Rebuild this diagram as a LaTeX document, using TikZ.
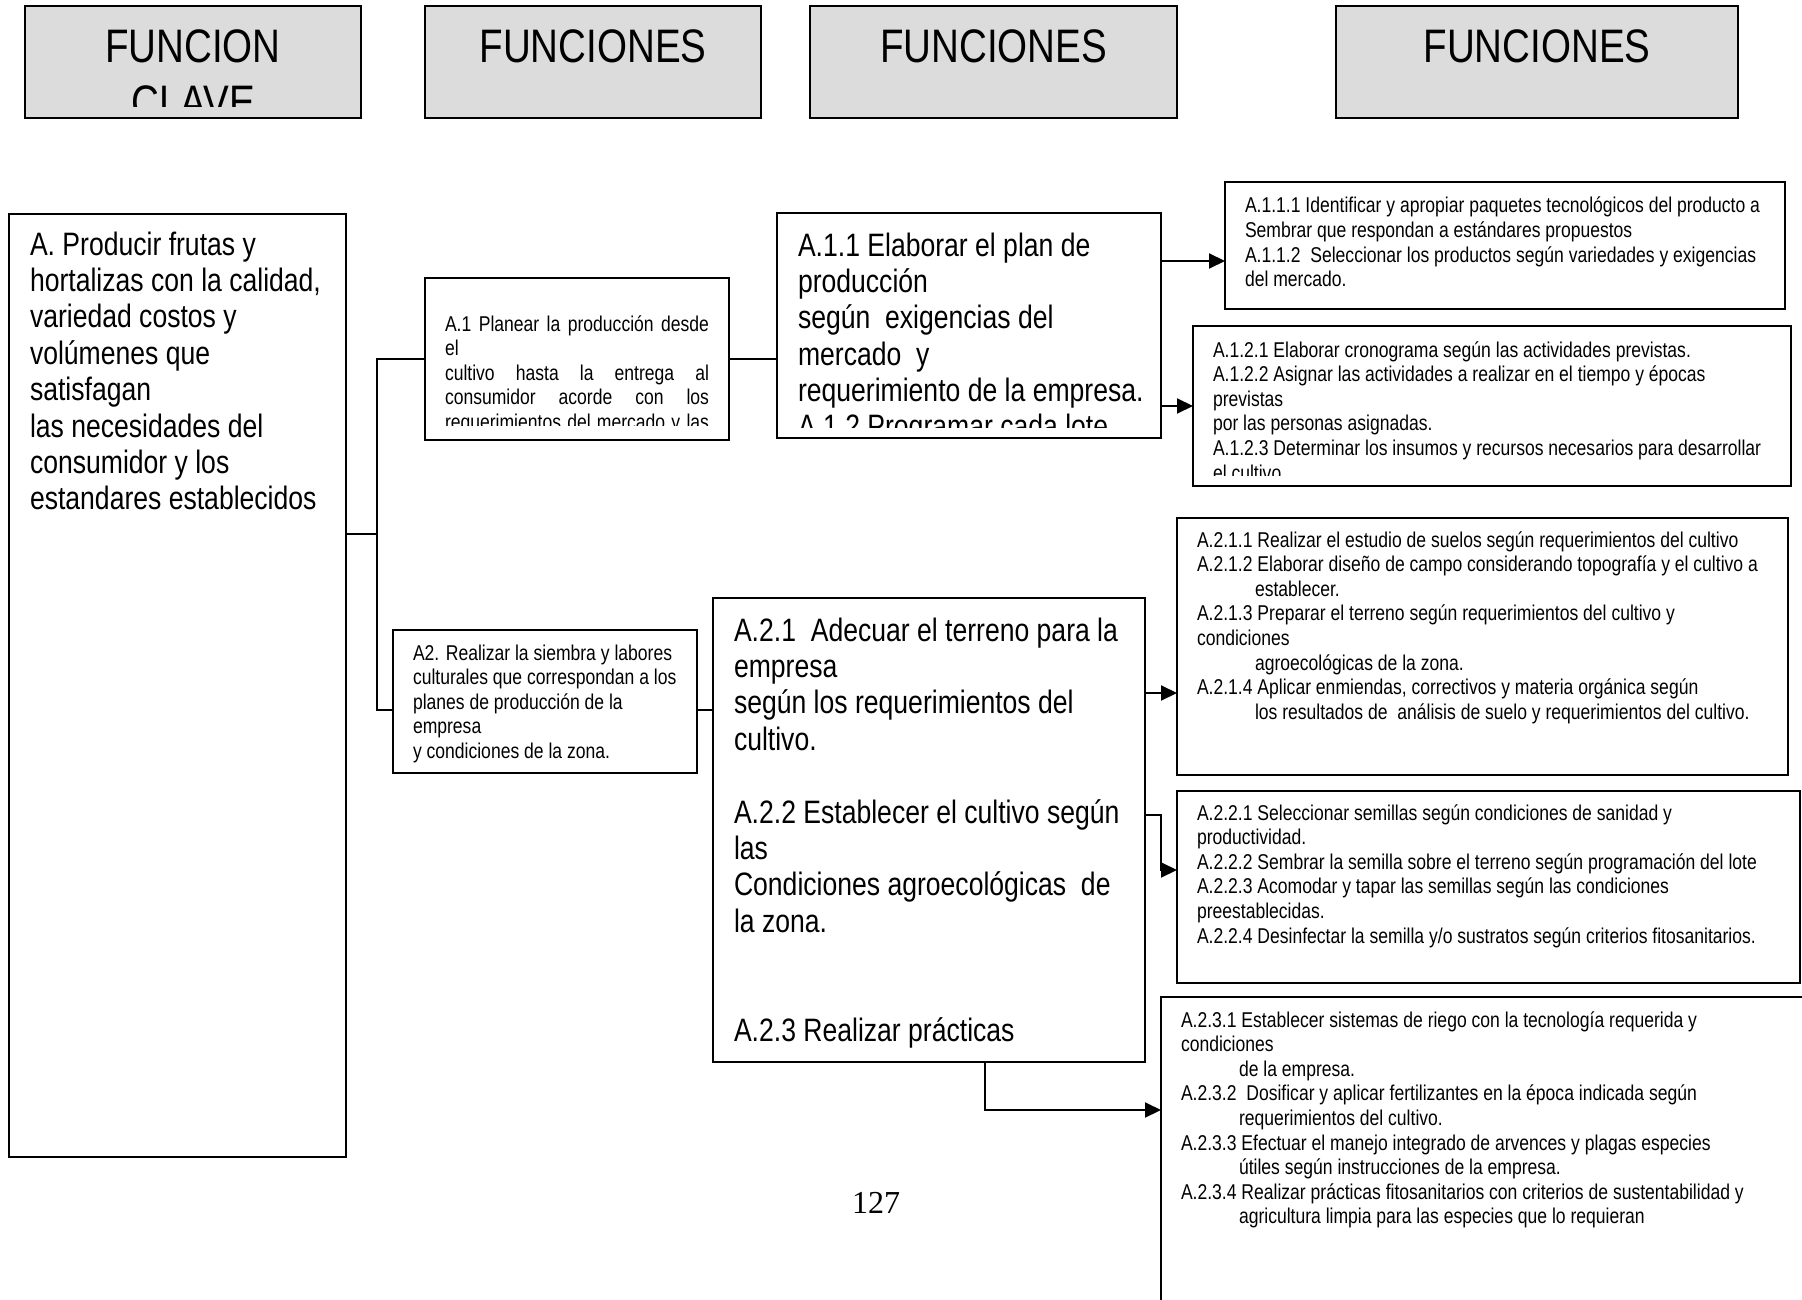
\documentclass[tikz,border=0pt]{standalone}
\usepackage{fontspec}
\setmainfont[FakeStretch=0.82]{Liberation Sans}
\newfontfamily\pagenumfont{Liberation Serif}
\usetikzlibrary{arrows.meta}
\definecolor{hdrgray}{HTML}{DCDCDC}
\newcommand{\smtxt}{\fontsize{21.4}{24.6}\selectfont}
\newcommand{\bgtxt}{\fontsize{32.4}{36.4}\selectfont}
\newcommand{\hdtxt}{\fontsize{47}{56}\selectfont}
\newcommand{\indt}{\hspace*{58pt}}
\tikzset{
  box/.style={draw=black, line width=2pt, inner sep=0pt, outer sep=0pt, anchor=north west},
  hdr/.style={box, fill=hdrgray},
  conn/.style={draw=black, line width=2pt},
  arr/.style={conn, -{Triangle[length=16pt,width=15pt]}},
  txt/.style={inner sep=0pt, outer sep=0pt, anchor=base west},
}
\begin{document}
\begin{tikzpicture}[x=1pt,y=-1pt]
\fill[white] (0,0) rectangle (1802,1300);
\useasboundingbox (0,0) rectangle (1802,1300);

% header boxes
\node[hdr, minimum width=336pt, minimum height=112pt] (h1) at (25,6) {};
\node[hdr, minimum width=336pt, minimum height=112pt] (h2) at (425,6) {};
\node[hdr, minimum width=367pt, minimum height=112pt] (h3) at (810,6) {};
\node[hdr, minimum width=402pt, minimum height=112pt] (h4) at (1336,6) {};

\begin{scope}
\clip (25,6) rectangle (361,107);
\node[txt, anchor=base] (th1) at (193,63) {\parbox[t]{336pt}{\centering\hdtxt FUNCION\\CLAVE}};
\end{scope}
\node[txt, anchor=base] (th2) at (593,63) {\hdtxt FUNCIONES};
\node[txt, anchor=base] (th3) at (993.5,63) {\hdtxt FUNCIONES};
\node[txt, anchor=base] (th4) at (1537,63) {\hdtxt FUNCIONES};

% content boxes
\node[box, minimum width=337pt, minimum height=943pt] (A) at (9,214) {};
\node[box, minimum width=304pt, minimum height=162pt] (A1) at (425,278) {};
\node[box, minimum width=384pt, minimum height=225pt] (A11) at (777,213) {};
\node[box, minimum width=560pt, minimum height=127pt] (A111) at (1225,182) {};
\node[box, minimum width=598pt, minimum height=160pt] (A12) at (1193,326) {};
\node[box, minimum width=304pt, minimum height=143pt] (A2) at (393,630) {};
\node[box, minimum width=432pt, minimum height=464pt] (A2b) at (713,598) {};
\node[box, minimum width=611pt, minimum height=257pt] (A21) at (1177,518) {};
\node[box, minimum width=623pt, minimum height=192pt] (A22) at (1177,791) {};
\node[box, minimum width=739pt, minimum height=403pt] (A23) at (1161,997) {};

% texts
\node[txt] (tA) at (30,255) {\parbox[t]{400pt}{\bgtxt
A. Producir frutas y\\
hortalizas con la calidad,\\
variedad costos y\\
volúmenes que\\
satisfagan\\
las necesidades del\\
consumidor y los\\
estandares establecidos}};

\begin{scope}
\clip (427,280) rectangle (727,425);
\node[txt] (tA1) at (445,331) {\parbox[t]{400pt}{\smtxt
\makebox[264pt][s]{A.1 Planear la producción desde}\\
el\\
\makebox[264pt][s]{cultivo hasta la entrega al}\\
\makebox[264pt][s]{consumidor acorde con los}\\
\makebox[264pt][s]{requerimientos del mercado y las}}};
\end{scope}

\begin{scope}
\clip (779,215) rectangle (1159,427);
\node[txt] (tA11) at (798,256) {\parbox[t]{500pt}{\bgtxt
A.1.1 Elaborar el plan de\\
producción\\
según~ exigencias del\\
mercado~ y\\
requerimiento de la empresa.\\
A.1.2 Programar cada lote}};
\end{scope}

\node[txt] (tA111) at (1245,213) {\parbox[t]{700pt}{\smtxt
A.1.1.1 Identificar y apropiar paquetes tecnológicos del producto a\\
Sembrar que respondan a estándares propuestos\\
A.1.1.2~ Seleccionar los productos según variedades y exigencias\\
del mercado.}};

\begin{scope}
\clip (1195,328) rectangle (1789,475);
\node[txt] (tA12) at (1213,357) {\parbox[t]{700pt}{\smtxt
A.1.2.1 Elaborar cronograma según las actividades previstas.\\
A.1.2.2 Asignar las actividades a realizar en el tiempo y épocas\\
previstas\\
por las personas asignadas.\\
A.1.2.3 Determinar los insumos y recursos necesarios para desarrollar\\
el cultivo}};
\end{scope}

\node[txt] (tA2) at (413,660) {\parbox[t]{400pt}{\smtxt
A2. Realizar la siembra y labores\\
culturales que correspondan a los\\
planes de producción de la\\
empresa\\
y condiciones de la zona.}};

\node[txt] (tA2b) at (734,641) {\parbox[t]{500pt}{\bgtxt
A.2.1~ Adecuar el terreno para la\\
empresa\\
según los requerimientos del\\
cultivo.\\
\mbox{}\\
A.2.2 Establecer el cultivo según\\
las\\
Condiciones agroecológicas~ de\\
la zona.\\
\mbox{}\\
\mbox{}\\
A.2.3 Realizar prácticas}};

\node[txt] (tA21) at (1197,547) {\parbox[t]{700pt}{\smtxt
A.2.1.1 Realizar el estudio de suelos según requerimientos del cultivo\\
A.2.1.2 Elaborar diseño de campo considerando topografía y el cultivo a\\
\indt establecer.\\
A.2.1.3 Preparar el terreno según requerimientos del cultivo y\\
condiciones\\
\indt agroecológicas de la zona.\\
A.2.1.4 Aplicar enmiendas, correctivos y materia orgánica según\\
\indt los resultados de~ análisis de suelo y requerimientos del cultivo.}};

\node[txt] (tA22) at (1197,820) {\parbox[t]{700pt}{\smtxt
A.2.2.1 Seleccionar semillas según condiciones de sanidad y\\
productividad.\\
A.2.2.2 Sembrar la semilla sobre el terreno según programación del lote\\
A.2.2.3 Acomodar y tapar las semillas según las condiciones\\
preestablecidas.\\
A.2.2.4 Desinfectar la semilla y/o sustratos según criterios fitosanitarios.}};

\node[txt] (tA23) at (1181,1027) {\parbox[t]{700pt}{\smtxt
A.2.3.1 Establecer sistemas de riego con la tecnología requerida y\\
condiciones\\
\indt de la empresa.\\
A.2.3.2~ Dosificar y aplicar fertilizantes en la época indicada según\\
\indt requerimientos del cultivo.\\
A.2.3.3 Efectuar el manejo integrado de arvences y plagas especies\\
\indt útiles según instrucciones de la empresa.\\
A.2.3.4 Realizar prácticas fitosanitarios con criterios de sustentabilidad y\\
\indt agricultura limpia para las especies que lo requieran}};

\node[inner sep=0pt, anchor=base] (pg) at (876,1213) {\pagenumfont\fontsize{32}{38}\selectfont 127};

% connector coordinates
\coordinate (jA) at (377,534);
\coordinate (yA2) at (0,710);
\coordinate (yA111) at (0,261);
\coordinate (yA21) at (0,693);
\coordinate (yA22a) at (0,815);
\coordinate (xA22) at (1161,0);
\coordinate (yA22b) at (0,870);
\coordinate (xA23) at (985,0);
\coordinate (yA23) at (0,1110);

% connectors
\draw[conn] (A.east |- jA) -- (jA);
\draw[conn] (A1.west) -| (jA) |- (A2.west |- yA2);
\draw[conn] (A1.east) -- (A11.west |- A1.east);
\draw[conn] (A2.east |- yA2) -- (A2b.west |- yA2);
\draw[arr] (A11.east |- yA111) -- (A111.west |- yA111);
\draw[arr] (A11.east |- A12.west) -- (A12.west);
\draw[arr] (A2b.east |- yA21) -- (A21.west |- yA21);
\draw[arr] (A2b.east |- yA22a) -- (xA22 |- yA22a) -- (xA22 |- yA22b) -- (A22.west |- yA22b);
\draw[arr] (xA23 |- A2b.south) -- (xA23 |- yA23) -- (A23.west |- yA23);
\end{tikzpicture}
\end{document}
